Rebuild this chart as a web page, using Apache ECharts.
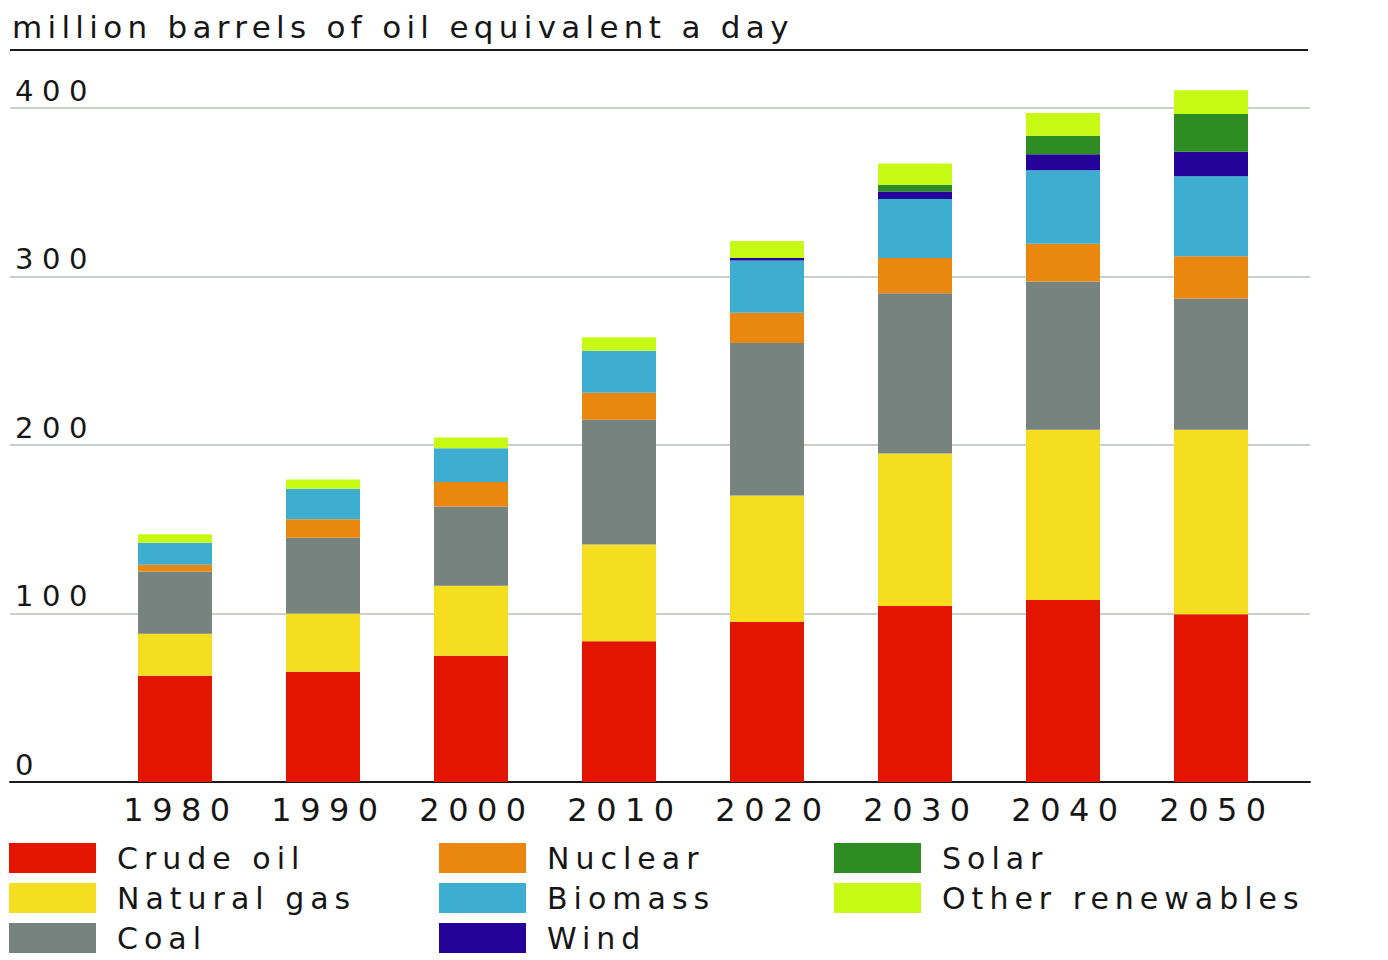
<!DOCTYPE html>
<html>
<head>
<meta charset="utf-8">
<script src="https://cdn.jsdelivr.net/npm/echarts@6/dist/echarts.min.js"></script>
<style>
html,body{margin:0;padding:0;background:#fff;}
#chart{width:1388px;height:960px;}
#chart text{letter-spacing:6px;}
#chart text[style*="31px"]{letter-spacing:5.3px;}
#chart text[style*="32px"]{letter-spacing:8.5px;}
#chart text[style*="29px"]{letter-spacing:8.5px;}
</style>
</head>
<body>
<div id="chart"></div>
<script>
// ---- data (million barrels of oil equivalent a day) ----
var years = ['1980', '1990', '2000', '2010', '2020', '2030', '2040', '2050'];
var crudeOil        = [63,   65.5, 75,   83.5, 95,   104.5, 108,  99.5];
var naturalGas      = [25,   34.5, 41.5, 57.5, 75,   90.5,  101,  109.5];
var coal            = [37,   45,   47,   74,   90.5, 95,    88,   78];
var nuclear         = [4,    11,   14.5, 16,   18,   21,    22.5, 25];
var biomass         = [13,   18,   20,   25,   31,   35,    43.5, 47.5];
var wind            = [0,    0,    0,    0,    1.5,  4.5,   9.5,  14.5];
var solar           = [0,    0,    0,    0,    0,    4,     11,   22.5];
var otherRenewables = [5,    5.5,  6.5,  8,    10,   12.5,  13.5, 14];
var yTicks = [0, 100, 200, 300, 400];
var titleText = 'million barrels of oil equivalent a day';

var seriesDefs = [
  ['Crude oil', crudeOil, '#e31500'],
  ['Natural gas', naturalGas, '#f5de20'],
  ['Coal', coal, '#77837f'],
  ['Nuclear', nuclear, '#ea870e'],
  ['Biomass', biomass, '#3eaed0'],
  ['Wind', wind, '#24039a'],
  ['Solar', solar, '#2d8c22'],
  ['Other renewables', otherRenewables, '#c6f914']
];

var FONT = '"DejaVu Sans", sans-serif';
var TXT = '#161616';
var chart = echarts.init(document.getElementById('chart'), null, {renderer: 'svg'});

var series = seriesDefs.map(function (d) {
  return {
    name: d[0],
    type: 'bar',
    stack: 'total',
    xAxisIndex: 1,
    yAxisIndex: 1,
    barWidth: '50%',
    clip: false,
    itemStyle: {color: d[2]},
    emphasis: {disabled: true},
    data: d[1]
  };
});

function legendCol(names, left) {
  return {
    data: names,
    orient: 'vertical',
    left: left,
    top: 843,
    height: 115,
    padding: 0,
    icon: 'rect',
    itemWidth: 87,
    itemHeight: 30,
    itemGap: 10,
    selectedMode: false,
    textStyle: {
      fontFamily: FONT,
      fontSize: 30,
      color: TXT,
      lineHeight: 30,
      padding: [0, 0, 0, 16]
    }
  };
}

var option = {
  backgroundColor: '#ffffff',
  animation: false,
  title: {
    text: titleText,
    left: 12,
    top: 11,
    padding: 0,
    textStyle: {fontFamily: FONT, fontSize: 31, fontWeight: 'normal', color: TXT}
  },
  graphic: [{
    type: 'line',
    shape: {x1: 10, y1: 50, x2: 1308, y2: 50},
    style: {stroke: '#1a1a1a', lineWidth: 2}
  }],
  legend: [
    legendCol(['Crude oil', 'Natural gas', 'Coal'], 9),
    legendCol(['Nuclear', 'Biomass', 'Wind'], 439),
    legendCol(['Solar', 'Other renewables'], 834)
  ],
  grid: [
    {left: 10, right: 78, top: 108, bottom: 178},
    {left: 101, right: 103, top: 108, bottom: 178}
  ],
  xAxis: [
    {
      gridIndex: 0, type: 'value', min: 0, max: 1,
      axisLine: {show: true, lineStyle: {color: '#1a1a1a', width: 2}},
      axisTick: {show: false}, axisLabel: {show: false}, splitLine: {show: false}
    },
    {
      gridIndex: 1, type: 'category', data: years,
      axisLine: {show: false}, axisTick: {show: false},
      axisLabel: {fontFamily: FONT, fontSize: 32, color: TXT, margin: 12, padding: [0, 0, 0, 12]}
    }
  ],
  yAxis: [
    {
      gridIndex: 0, type: 'value', min: yTicks[0], max: yTicks[yTicks.length - 1], interval: 100,
      axisLine: {show: false}, axisTick: {show: false},
      axisLabel: {
        inside: true, margin: 5, align: 'left', verticalAlign: 'bottom',
        padding: [0, 0, 3, 0],
        fontFamily: FONT, fontSize: 29, color: TXT
      },
      splitLine: {show: true, lineStyle: {color: '#c8d1c8', width: 2}}
    },
    {
      gridIndex: 1, type: 'value', min: 0, max: 400, interval: 100, show: false,
      splitLine: {show: false}
    }
  ],
  series: series
};
chart.setOption(option);
</script>
</body>
</html>
